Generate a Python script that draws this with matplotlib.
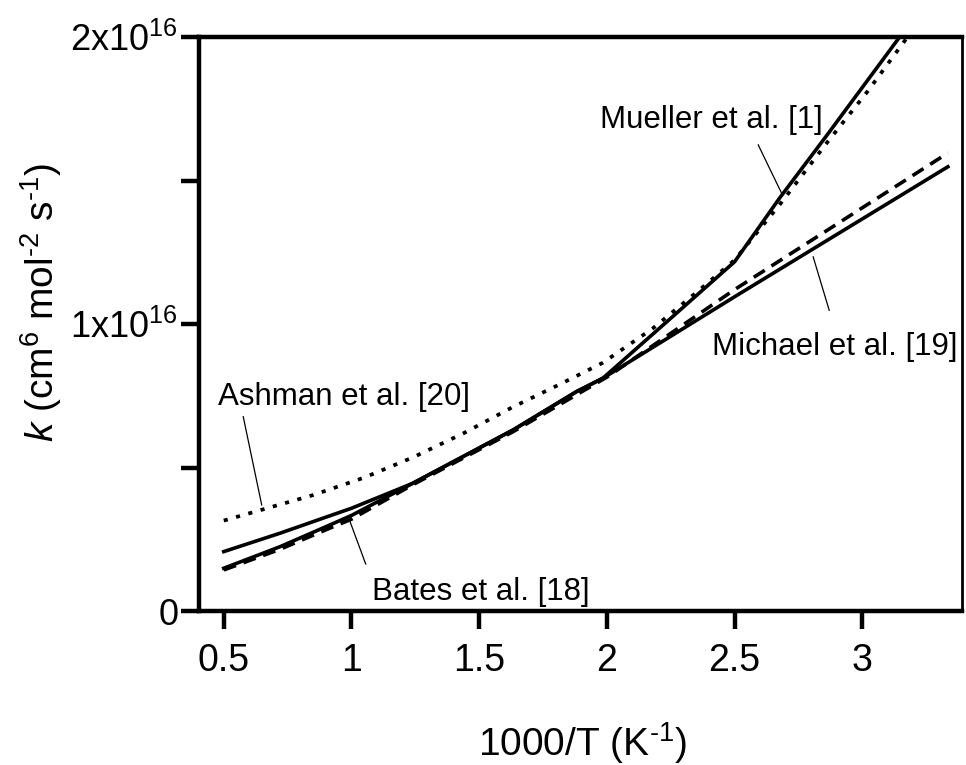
import numpy as np
import matplotlib
matplotlib.use("Agg")
import matplotlib.pyplot as plt

plt.rcParams['font.family'] = ['Liberation Sans', 'DejaVu Sans']
plt.rcParams['mathtext.fontset'] = 'custom'
plt.rcParams['mathtext.rm'] = 'Liberation Sans'
plt.rcParams['mathtext.it'] = 'Liberation Sans:italic'
plt.rcParams['mathtext.default'] = 'regular'

# data, k in units of 1e16 cm^6 mol^-2 s^-1
scale = 1e16

mueller_x = [0.5, 0.72, 0.916, 1.0, 1.24, 1.633, 1.882, 1.984, 2.25, 2.5, 2.677, 2.859, 3.146, 3.22]
mueller_k = [0.149, 0.224, 0.300, 0.333, 0.445, 0.631, 0.765, 0.811, 1.02, 1.217, 1.44, 1.655, 2.0, 2.09]

michael_x = [0.5, 0.72, 0.916, 1.0, 1.24, 1.633, 1.882, 1.984, 2.5, 3.335]
michael_k = [0.207, 0.271, 0.332, 0.358, 0.445, 0.631, 0.765, 0.811, 1.095, 1.548]

bates_x = [0.5, 0.72, 0.916, 1.0, 1.24, 1.633, 2.0, 2.5, 3.335]
bates_k = [0.143, 0.215, 0.289, 0.320, 0.440, 0.625, 0.815, 1.12, 1.596]

ashman_x = [0.5, 0.85, 1.05, 1.24, 1.44, 1.63, 1.816, 1.984, 2.18, 2.364, 2.5, 2.68, 2.86, 3.02, 3.177, 3.25]
ashman_k = [0.315, 0.404, 0.465, 0.535, 0.62, 0.71, 0.79, 0.865, 0.985, 1.12, 1.223, 1.42, 1.63, 1.81, 2.0, 2.09]

xticks = [0.5, 1, 1.5, 2, 2.5, 3]
xticklabels = ['0.5', '1', '1.5', '2', '2.5', '3']
yticks = [0, 1e16, 2e16]
yticklabels = ['0', '1x10$^{16}$', '2x10$^{16}$']
yminor = [0.5e16, 1.5e16]

# label text, anchor (axes fraction), pointer start/end (axes fraction)
labels = ['Mueller et al. [1]', 'Michael et al. [19]', 'Ashman et al. [20]', 'Bates et al. [18]']
label_pos = [(0.5256, 0.841), (0.672, 0.446), (0.0253, 0.359), (0.2263, 0.0192)]
pointers = [((0.733, 0.812), (0.7637, 0.7277)),
            ((0.805, 0.617), (0.826, 0.524)),
            ((0.058, 0.3385), (0.0822, 0.1847)),
            ((0.198, 0.1556), (0.2185, 0.0819))]

fig = plt.figure(figsize=(9.66, 7.65), dpi=100)
ax = fig.add_axes([0.206, 0.2013, 0.7898, 0.7503])

ax.plot(mueller_x, np.array(mueller_k) * scale, color='black', lw=2.6)
ax.plot(michael_x, np.array(michael_k) * scale, color='black', lw=2.6)
ax.plot(bates_x, np.array(bates_k) * scale, color='black', lw=2.6, ls=(0, (3.6, 2.2)))
ax.plot(ashman_x, np.array(ashman_k) * scale, color='black', lw=2.7, ls=(0, (1.1, 2.3)))

ax.set_xlim(0.403, 3.39)
ax.set_ylim(0, 2e16)

ax.set_xticks(xticks)
ax.set_xticklabels(xticklabels, fontsize=27)
ax.set_yticks(yticks)
ax.set_yticklabels(yticklabels, fontsize=26)
ax.set_yticks(yminor, minor=True)
ax.tick_params(axis='both', which='both', direction='out', length=13, width=3.2, color='black')
ax.tick_params(axis='x', pad=10)
ax.tick_params(axis='y', pad=2)

for side in ['left', 'bottom', 'top']:
    ax.spines[side].set_linewidth(3.2)
ax.spines['right'].set_linewidth(2.0)

ax.set_xlabel('1000/T (K$^{\u20101}$)', fontsize=28)
ax.xaxis.set_label_coords(0.502, -0.19)
ax.set_ylabel('$\\mathit{k}$ (cm$^{6}$ mol$^{\u20102}$ s$^{\u20101}$)', fontsize=28)
ax.yaxis.set_label_coords(-0.177, 0.537)

for txt, pos, (p0, p1) in zip(labels, label_pos, pointers):
    ax.text(pos[0], pos[1], txt, transform=ax.transAxes, fontsize=22.5,
            ha='left', va='baseline')
    ax.plot([p0[0], p1[0]], [p0[1], p1[1]], transform=ax.transAxes,
            color='black', lw=0.9)

fig.savefig('out.png', dpi=100)
